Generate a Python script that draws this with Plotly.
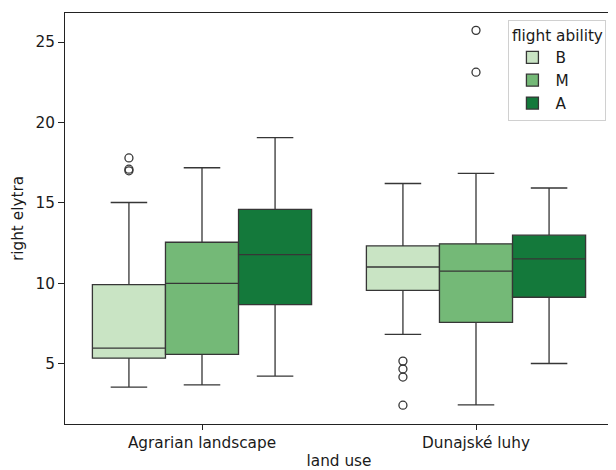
import plotly.graph_objects as go

categories = ["Agrarian landscape", "Dunajské luhy"]
groups = ["B", "M", "A"]
colors = ["#c9e4c4", "#74b977", "#14793b"]

# precomputed box stats per group, per category
q1 = {"B": [5.35, 9.57], "M": [5.59, 7.58], "A": [8.68, 9.14]}
median = {"B": [5.98, 11.02], "M": [10.0, 10.76], "A": [11.79, 11.52]}
q3 = {"B": [9.92, 12.33], "M": [12.56, 12.46], "A": [14.6, 13.0]}
lower = {"B": [3.55, 6.83], "M": [3.69, 2.45], "A": [4.23, 5.02]}
upper = {"B": [15.03, 16.21], "M": [17.19, 16.84], "A": [19.06, 15.93]}
outliers = {
    "B": [[17.8, 17.1, 17.0], [5.17, 4.68, 4.18, 2.43]],
    "M": [[], [25.73, 23.13]],
    "A": [[], []],
}

x_pos = list(range(len(categories)))
group_width = 0.8
n = len(groups)

fig = go.Figure()
for k, (g, c) in enumerate(zip(groups, colors)):
    fig.add_trace(go.Box(
        name=g,
        x=x_pos,
        q1=q1[g], median=median[g], q3=q3[g],
        lowerfence=lower[g], upperfence=upper[g],
        boxpoints=False,
        fillcolor=c,
        line=dict(color="#363636", width=1.3),
        whiskerwidth=0.5,
        offsetgroup=g,
        legendgroup=g,
        hoverinfo="skip",
    ))
    off = (k - (n - 1) / 2) * group_width / n
    ox, oy = [], []
    for i, vals in enumerate(outliers[g]):
        for v in vals:
            ox.append(x_pos[i] + off)
            oy.append(v)
    fig.add_trace(go.Scatter(
        x=ox, y=oy, mode="markers", showlegend=False, legendgroup=g,
        marker=dict(symbol="circle-open", color="#363636", size=8,
                    line=dict(width=1.3)),
        hoverinfo="skip",
    ))

font = dict(family="DejaVu Sans", size=15.3, color="#1a1a1a")
fig.update_layout(
    width=608, height=462,
    margin=dict(l=57, r=2, t=5, b=39),
    paper_bgcolor="white", plot_bgcolor="white",
    boxmode="group", boxgap=0.2, boxgroupgap=0,
    font=font,
    showlegend=True,
    legend=dict(
        title=dict(text="flight ability", side="top center", font=font),
        x=0.988, y=0.983, xanchor="right", yanchor="top",
        bgcolor="rgba(255,255,255,0.8)", bordercolor="#d0d0d0", borderwidth=1,
        font=font, tracegroupgap=0, itemwidth=36,
    ),
    xaxis=dict(
        range=[-0.5, 1.5], tickvals=x_pos, ticktext=categories,
        showline=True, mirror=True, linecolor="#222", linewidth=1,
        ticks="outside", ticklen=5, tickcolor="#222", showgrid=False, zeroline=False,
        tickfont=font,
        title=dict(text="land use", standoff=5, font=font),
    ),
    yaxis=dict(
        range=[1.26, 26.81], tickvals=[5, 10, 15, 20, 25],
        showline=True, mirror=True, linecolor="#222", linewidth=1,
        ticks="outside", ticklen=6, tickcolor="#222", showgrid=False, zeroline=False,
        tickfont=font,
        title=dict(text="right elytra", standoff=8, font=font),
    ),
)

fig.write_html("out.html")
